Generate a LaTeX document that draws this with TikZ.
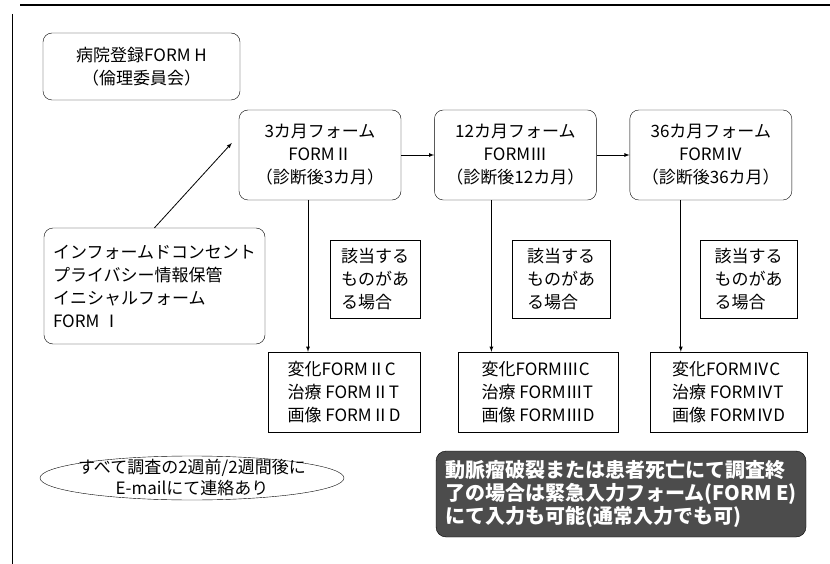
\documentclass[tikz,border=0pt]{standalone}
\usepackage{fontspec}
\setmainfont{Noto Sans CJK JP}
\usetikzlibrary{arrows,positioning}

\begin{document}
\begin{tikzpicture}[x=1pt, y=-1pt,
                txt/.style={font=\fontsize{17}{23}\selectfont},
                roundbox/.style={draw, rounded corners=9pt, txt, inner sep=0pt},
                formbox/.style={roundbox, align=center, minimum width=162pt, minimum height=90pt},
                casebox/.style={draw, txt, align=left, minimum height=78pt, inner sep=0pt},
                subbox/.style={draw, txt, align=left, minimum height=80pt, inner sep=0pt},
                arrow/.style={-latex, thick},
                node distance=33pt
            ]
            \useasboundingbox (0,0) rectangle (830,564);

            % frame of the page
            \draw[line width=1.5pt] (20,5) -- (830,5);
            \draw[line width=0.8pt] (12,14) -- (12,564);

            \node[roundbox, align=center, minimum width=197pt, minimum height=67pt] (hosp) at (141.5,66.5) {病院登録FORM H\\（倫理委員会）};

            \node[formbox] (form2) at (320,155) {3カ月フォーム\\FORMⅡ\\（診断後3カ月）};
            \node[formbox, right=of form2] (form3) {12カ月フォーム\\FORMⅢ\\（診断後12カ月）};
            \node[formbox, right=of form3] (form4) {36カ月フォーム\\FORMⅣ\\（診断後36カ月）};

            \node[roundbox, align=left, minimum width=221pt, minimum height=116pt] (ic) at (154.5,286) {インフォームドコンセント\\プライバシー情報保管\\イニシャルフォーム\\FORM Ⅰ};

            \node[casebox, minimum width=90pt] (case2) at (375,279) {該当する\\ものがあ\\る場合};
            \node[casebox, minimum width=98pt] (case3) at (561,279) {該当する\\ものがあ\\る場合};
            \node[casebox, minimum width=97pt] (case4) at (748.5,279) {該当する\\ものがあ\\る場合};

            \node[subbox, minimum width=152pt] (chg2) at (344,392) {変化FORMⅡC\\治療 FORMⅡT\\画像 FORMⅡD};
            \node[subbox, minimum width=160pt] (chg3) at (538,392) {変化FORMⅢC\\治療 FORMⅢT\\画像 FORMⅢD};
            \node[subbox, minimum width=157pt] (chg4) at (728.5,392) {変化FORMⅣC\\治療 FORMⅣT\\画像 FORMⅣD};

            \draw[arrow] (ic.north) -- ([yshift=12pt, xshift=-7pt]form2.west);
            \draw[arrow] (form2) -- (form3);
            \draw[arrow] (form3) -- (form4);
            \draw[arrow] ([xshift=-12pt]form2.south) -- ([xshift=-12pt]form2.south |- chg2.north);
            \draw[arrow] ([xshift=-24pt]form3.south) -- ([xshift=-24pt]form3.south |- chg3.north);
            \draw[arrow] ([xshift=-30pt]form4.south) -- ([xshift=-30pt]form4.south |- chg4.north);

            \node[font=\fontsize{17}{21}\selectfont, align=center] (mail) at (192,478) {すべて調査の2週前/2週間後に\\E-mailにて連絡あり};
            \draw (mail.center) ellipse [x radius=152pt, y radius=22pt];

            \node[draw, fill=black!70, text=white, rounded corners=10pt, font=\fontsize{20}{23}\selectfont\bfseries,
                  align=left, minimum width=370pt, minimum height=86pt, inner sep=0pt] (emerg) at (621,494)
                  {動脈瘤破裂または患者死亡にて調査終\\了の場合は緊急入力フォーム(FORM E)\\にて入力も可能(通常入力でも可)};

        \end{tikzpicture}
\end{document}
